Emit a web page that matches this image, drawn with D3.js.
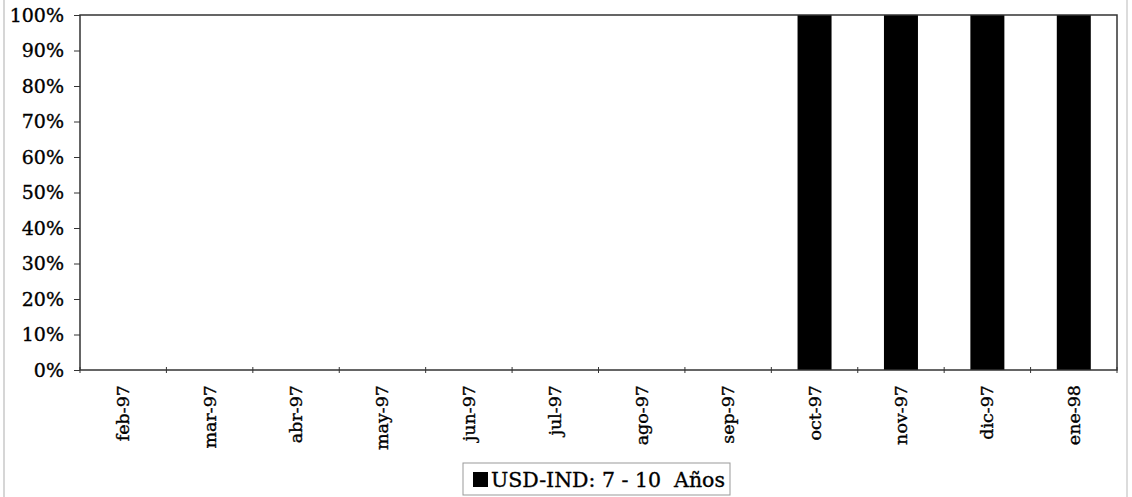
<!DOCTYPE html>
<html>
<head>
<meta charset="utf-8">
<script src="https://cdn.jsdelivr.net/npm/d3@7"></script>
<style>
  html, body { margin: 0; padding: 0; background: #fff; }
  svg { display: block; }
</style>
</head>
<body>
<svg id="chart" width="1132" height="497"></svg>
<script>
// Monthly share of the USD-IND 7 - 10 year bucket
const months = ["feb-97", "mar-97", "abr-97", "may-97", "jun-97", "jul-97",
                "ago-97", "sep-97", "oct-97", "nov-97", "dic-97", "ene-98"];
const shares = [0, 0, 0, 0, 0, 0, 0, 0, 100, 100, 100, 100];
const yTicks = [0, 10, 20, 30, 40, 50, 60, 70, 80, 90, 100];
const seriesName = "USD-IND: 7 - 10  Años";

const FONT = "'DejaVu Serif', serif";
const svg = d3.select("#chart");
const W = 1132, H = 497;
const m = { left: 80, right: 1117, top: 15, bottom: 370 };

// page frame edges
svg.append("line").attr("x1", 4).attr("x2", 4).attr("y1", 0).attr("y2", H)
  .attr("stroke", "#c8c8c8").attr("stroke-width", 1.5);
svg.append("line").attr("x1", 1127).attr("x2", 1127).attr("y1", 0).attr("y2", H)
  .attr("stroke", "#d0d0d0").attr("stroke-width", 1.5);

const xb = d3.scaleBand().domain(months).range([m.left, m.right]);
const y = d3.scaleLinear().domain([0, 100]).range([m.bottom, m.top]);

// bars
svg.append("g").selectAll("rect").data(months).join("rect")
  .attr("x", (d) => xb(d) + xb.bandwidth() / 2 - 17)
  .attr("width", 34)
  .attr("y", (d, i) => y(shares[i]))
  .attr("height", (d, i) => y(0) - y(shares[i]))
  .attr("fill", "#000");

// plot frame
svg.append("rect")
  .attr("x", m.left).attr("y", m.top)
  .attr("width", m.right - m.left).attr("height", m.bottom - m.top)
  .attr("fill", "none").attr("stroke", "#333").attr("stroke-width", 1.5);

// y axis
const yAxis = svg.append("g").attr("transform", `translate(${m.left},0)`)
  .call(d3.axisLeft(y).tickValues(yTicks).tickFormat((d) => d + "%").tickSize(6).tickPadding(10));
yAxis.attr("font-family", FONT).attr("font-size", 19);
yAxis.select(".domain").remove();
yAxis.selectAll("line").attr("stroke", "#333");
yAxis.selectAll("text").attr("fill", "#000").attr("stroke", "#000").attr("stroke-width", 0.35);

// x axis: ticks at band boundaries
const bounds = months.map((d) => xb(d)).concat([m.right]);
svg.append("g").selectAll("line").data(bounds).join("line")
  .attr("x1", (d) => d).attr("x2", (d) => d)
  .attr("y1", m.bottom - 3).attr("y2", m.bottom + 3)
  .attr("stroke", "#333");

svg.append("g").attr("font-family", FONT).attr("font-size", 17.5)
  .selectAll("text").data(months).join("text")
  .attr("transform", (d) => `translate(${xb(d) + xb.bandwidth() / 2 + 6},${m.bottom + 15}) rotate(-90)`)
  .attr("text-anchor", "end")
  .attr("fill", "#000").attr("stroke", "#000").attr("stroke-width", 0.35)
  .text((d) => d);

// legend
const lg = svg.append("g").attr("transform", "translate(463,463)");
lg.append("rect").attr("width", 267).attr("height", 32)
  .attr("fill", "#fff").attr("stroke", "#999").attr("stroke-width", 1);
lg.append("rect").attr("x", 10).attr("y", 9).attr("width", 15).attr("height", 15).attr("fill", "#000");
lg.append("text").attr("x", 28).attr("y", 24)
  .attr("font-family", FONT).attr("font-size", 20.5).attr("fill", "#000")
  .attr("stroke", "#000").attr("stroke-width", 0.35)
  .attr("xml:space", "preserve").style("white-space", "pre")
  .text(seriesName);
</script>
</body>
</html>
